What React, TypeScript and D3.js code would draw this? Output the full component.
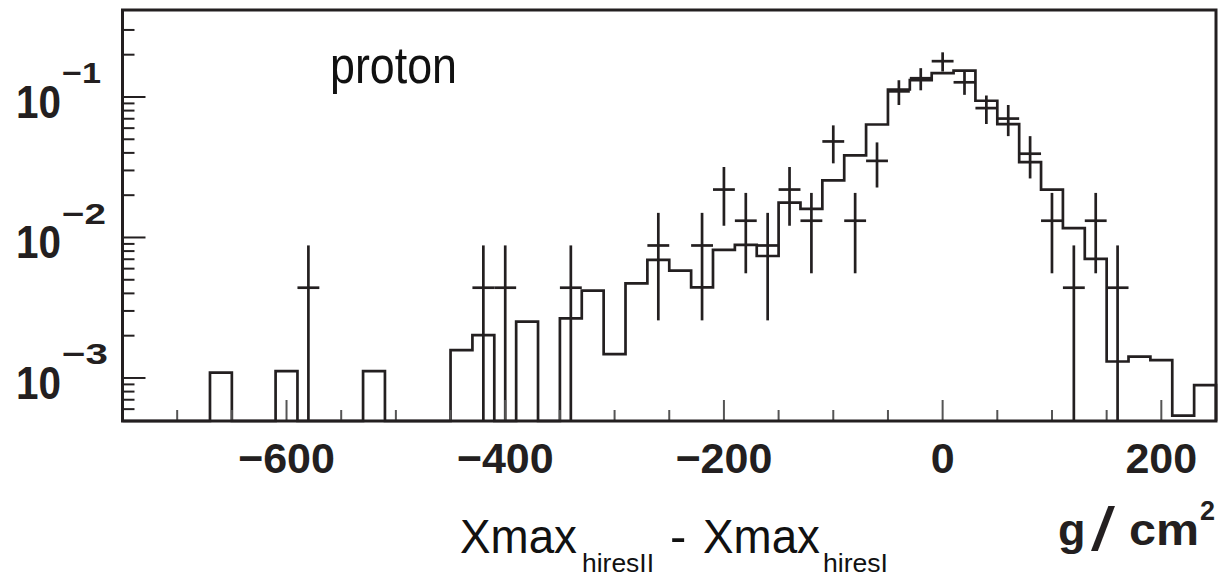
import React from "react";
import * as d3 from "d3";

// MC histogram: 50 bins of 20 g/cm^2 from -750 to 250 (bin centres)
const mcCenters: number[] = [
  -740, -720, -700, -680, -660, -640, -620, -600, -580, -560,
  -540, -520, -500, -480, -460, -440, -420, -400, -380, -360,
  -340, -320, -300, -280, -260, -240, -220, -200, -180, -160,
  -140, -120, -100, -80, -60, -40, -20, 0, 20, 40,
  60, 80, 100, 120, 140, 160, 180, 200, 220, 240,
];
const mcValues: number[] = [
  0, 0, 0, 0, 0.00109, 0, 0, 0.00112, 0, 0,
  0, 0.00112, 0, 0, 0, 0.00158, 0.00202, 0, 0.00252, 0,
  0.00266, 0.00418, 0.00148, 0.00472, 0.00692, 0.00581, 0.00441, 0.00815, 0.00885, 0.00738,
  0.0177, 0.016, 0.0255, 0.0384, 0.0637, 0.113, 0.132, 0.148, 0.154, 0.094,
  0.064, 0.0344, 0.0219, 0.01165, 0.00705, 0.00131, 0.00142, 0.00134, 0.00054, 0.00089,
];

// Data points (bin centre, value, error)
const dataX: number[] = [
  -580, -420, -400, -340, -260, -220, -200, -180, -160, -140,
  -120, -100, -80, -60, -40, -20, 0, 20, 40, 60,
  80, 100, 120, 140, 160,
];
const dataY: number[] = [
  0.00439, 0.00439, 0.00439, 0.00439, 0.00877, 0.00877, 0.02193, 0.01316, 0.00877, 0.02193,
  0.01316, 0.04825, 0.01316, 0.03509, 0.10965, 0.13596, 0.17982, 0.12719, 0.08333, 0.07018,
  0.03947, 0.01316, 0.00439, 0.01316, 0.00439,
];
const dataErr: number[] = [
  0.00439, 0.00439, 0.00439, 0.00439, 0.0062, 0.0062, 0.00981, 0.0076, 0.0062, 0.00981,
  0.0076, 0.01455, 0.0076, 0.01241, 0.02193, 0.02442, 0.02808, 0.02362, 0.01912, 0.01754,
  0.01316, 0.0076, 0.00439, 0.0076, 0.00439,
];

const xTicks: number[] = [-700, -650, -600, -550, -500, -450, -400, -350, -300, -250, -200, -150, -100, -50, 0, 50, 100, 150, 200];
const xLabelTicks: number[] = [-600, -400, -200, 0, 200];
const yMajorTicks: number[] = [0.1, 0.01, 0.001];
const yExponents: string[] = ["\u22121", "\u22122", "\u22123"];
const yMinorTicks: number[] = [
  0.0006, 0.0007, 0.0008, 0.0009,
  0.002, 0.003, 0.004, 0.005, 0.006, 0.007, 0.008, 0.009,
  0.02, 0.03, 0.04, 0.05, 0.06, 0.07, 0.08, 0.09,
  0.2, 0.3,
];

const BIN_W = 20;
const W = 1224;
const H = 577;
const L = 122.5, R = 1216, T = 10, B = 421;
const INK = "#231f20";
const FONT = "'Liberation Sans', Arial, Helvetica, sans-serif";

export default function App() {
  const x = d3.scaleLinear().domain([-750, 250]).range([L, R]);
  const y = d3.scaleLog().domain([4.94e-4, 0.416]).range([B, T]);
  const yc = (v: number) => (v <= 4.94e-4 ? B : Math.max(T, y(v)));

  const p = d3.path();
  p.moveTo(x(-750), B);
  mcCenters.forEach((c, i) => {
    const yy = yc(mcValues[i]);
    p.lineTo(x(c - BIN_W / 2), yy);
    p.lineTo(x(c + BIN_W / 2), yy);
  });
  p.lineTo(x(250), B);

  const expLen = [39, 44, 46];

  return (
    <svg width={W} height={H} style={{ position: "absolute", left: 0, top: 0, background: "#fff" }}
      fontFamily={FONT}>
      <rect x={0} y={0} width={W} height={H} fill="#fff" />
      {/* MC histogram */}
      <path d={p.toString()} fill="none" stroke={INK} strokeWidth={2.7} strokeLinejoin="miter" />
      {/* data points */}
      {dataX.map((c, i) => {
        const v = dataY[i];
        const e = dataErr[i];
        const cx = x(c);
        return (
          <g key={i} stroke={INK} strokeWidth={2.7}>
            <line x1={cx} x2={cx} y1={yc(v + e)} y2={yc(v - e)} />
            <line x1={x(c - BIN_W / 2)} x2={x(c + BIN_W / 2)} y1={y(v)} y2={y(v)} />
          </g>
        );
      })}
      {/* x ticks */}
      {xTicks.map((t) => {
        const major = xLabelTicks.includes(t);
        return (
          <line key={t} x1={x(t)} x2={x(t)} y1={B} y2={B - (major ? 21 : 11)} stroke="#555" strokeWidth={2} />
        );
      })}
      {/* y ticks */}
      {yMajorTicks.map((t) => (
        <line key={t} x1={L} x2={L + 23} y1={y(t)} y2={y(t)} stroke={INK} strokeWidth={2} />
      ))}
      {yMinorTicks.map((t) => (
        <line key={t} x1={L} x2={L + 12} y1={y(t)} y2={y(t)} stroke={INK} strokeWidth={2} />
      ))}
      {/* frame */}
      <rect x={L} y={T} width={R - L} height={B - T} fill="none" stroke={INK} strokeWidth={3} />
      {/* y labels */}
      {yMajorTicks.map((t, i) => (
        <g key={t} fill={INK} fontWeight="bold">
          <text x={16} y={y(t) + 21} fontSize={46} textLength={45} lengthAdjust="spacingAndGlyphs">10</text>
          <text x={62} y={y(t) - 13.5} fontSize={29} textLength={expLen[i]} lengthAdjust="spacingAndGlyphs">{yExponents[i]}</text>
        </g>
      ))}
      {/* x labels */}
      {xLabelTicks.map((t) => (
        <text key={t} x={x(t)} y={473} fontSize={43} fontWeight="bold" textAnchor="middle" fill={INK}>
          {t < 0 ? "\u2212" + Math.abs(t) : String(t)}
        </text>
      ))}
      {/* proton label */}
      <text x={330} y={82.7} fontSize={52} textLength={127} lengthAdjust="spacingAndGlyphs" fill="#111">proton</text>
      {/* axis title */}
      <g fill="#111">
        <text x={460} y={553} fontSize={49} textLength={117} lengthAdjust="spacingAndGlyphs">Xmax</text>
        <text x={582} y={571.5} fontSize={26} textLength={72} lengthAdjust="spacingAndGlyphs">hiresII</text>
        <text x={670} y={553} fontSize={49}>-</text>
        <text x={703} y={553} fontSize={49} textLength={117} lengthAdjust="spacingAndGlyphs">Xmax</text>
        <text x={823} y={571.5} fontSize={26} textLength={65} lengthAdjust="spacingAndGlyphs">hiresI</text>
      </g>
      {/* units */}
      <g fill={INK} fontWeight="bold">
        <text x={1058} y={545} fontSize={45}>g</text>
        <text x={1091} y={550} fontSize={62} fontWeight="normal" textLength={24} lengthAdjust="spacingAndGlyphs">/</text>
        <text x={1129} y={545} fontSize={45} textLength={70} lengthAdjust="spacingAndGlyphs">cm</text>
        <text x={1200} y={520} fontSize={27}>2</text>
      </g>
    </svg>
  );
}
